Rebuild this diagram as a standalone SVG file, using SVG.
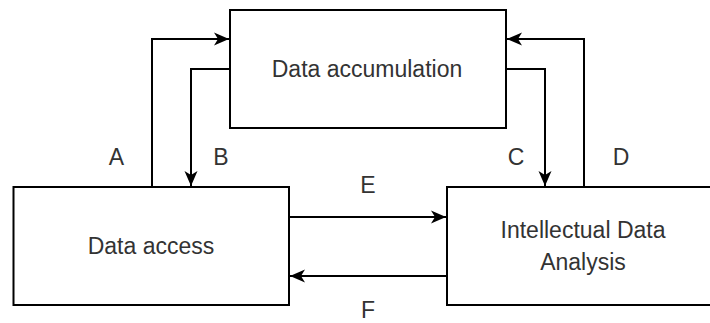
<svg xmlns="http://www.w3.org/2000/svg" width="710" height="323" viewBox="0 0 710 323">
  <style>
    .box { fill: #ffffff; stroke: #000000; stroke-width: 2; }
    .edge { fill: none; stroke: #000000; stroke-width: 2; }
    .label { font-family: "Liberation Sans", Arial, sans-serif; font-size: 23px; fill: #333333; text-anchor: middle; }
  </style>
  <defs>
    <marker id="arrow" markerUnits="userSpaceOnUse" markerWidth="20" markerHeight="20" refX="16" refY="8" orient="auto">
      <path d="M16,8 L1,1.5 L5,8 L1,14.5 Z" fill="#000000"/>
    </marker>
  </defs>

  <rect width="710" height="323" fill="#ffffff"/>

  <g id="connectors">
    <!-- A: access up to accumulation -->
    <polyline class="edge" points="152,187 152,39 229,39" marker-end="url(#arrow)"/>
    <!-- B: accumulation down to access -->
    <polyline class="edge" points="230,69 191,69 191,186" marker-end="url(#arrow)"/>
    <!-- C: accumulation down to analysis -->
    <polyline class="edge" points="506,69 545,69 545,186" marker-end="url(#arrow)"/>
    <!-- D: analysis up to accumulation -->
    <polyline class="edge" points="584,187 584,39 507,39" marker-end="url(#arrow)"/>
    <!-- E: access to analysis -->
    <line class="edge" x1="289" y1="217" x2="446" y2="217" marker-end="url(#arrow)"/>
    <!-- F: analysis to access -->
    <line class="edge" x1="447" y1="276" x2="290" y2="276" marker-end="url(#arrow)"/>
  </g>

  <g id="accumulation">
    <rect class="box" x="230" y="10" width="276" height="118"/>
    <text class="label" x="367" y="77">Data accumulation</text>
  </g>

  <g id="access">
    <rect class="box" x="13.5" y="187" width="275.5" height="118"/>
    <text class="label" x="151" y="254">Data access</text>
  </g>

  <g id="analysis">
    <rect class="box" x="447" y="187" width="276" height="118"/>
    <text class="label" x="583" y="238">Intellectual Data</text>
    <text class="label" x="583" y="270">Analysis</text>
  </g>

  <g id="edge-labels">
    <text class="label" x="116.5" y="165">A</text>
    <text class="label" x="221" y="165">B</text>
    <text class="label" x="516" y="165">C</text>
    <text class="label" x="621" y="165">D</text>
    <text class="label" x="368" y="193">E</text>
    <text class="label" x="368" y="318">F</text>
  </g>
</svg>
